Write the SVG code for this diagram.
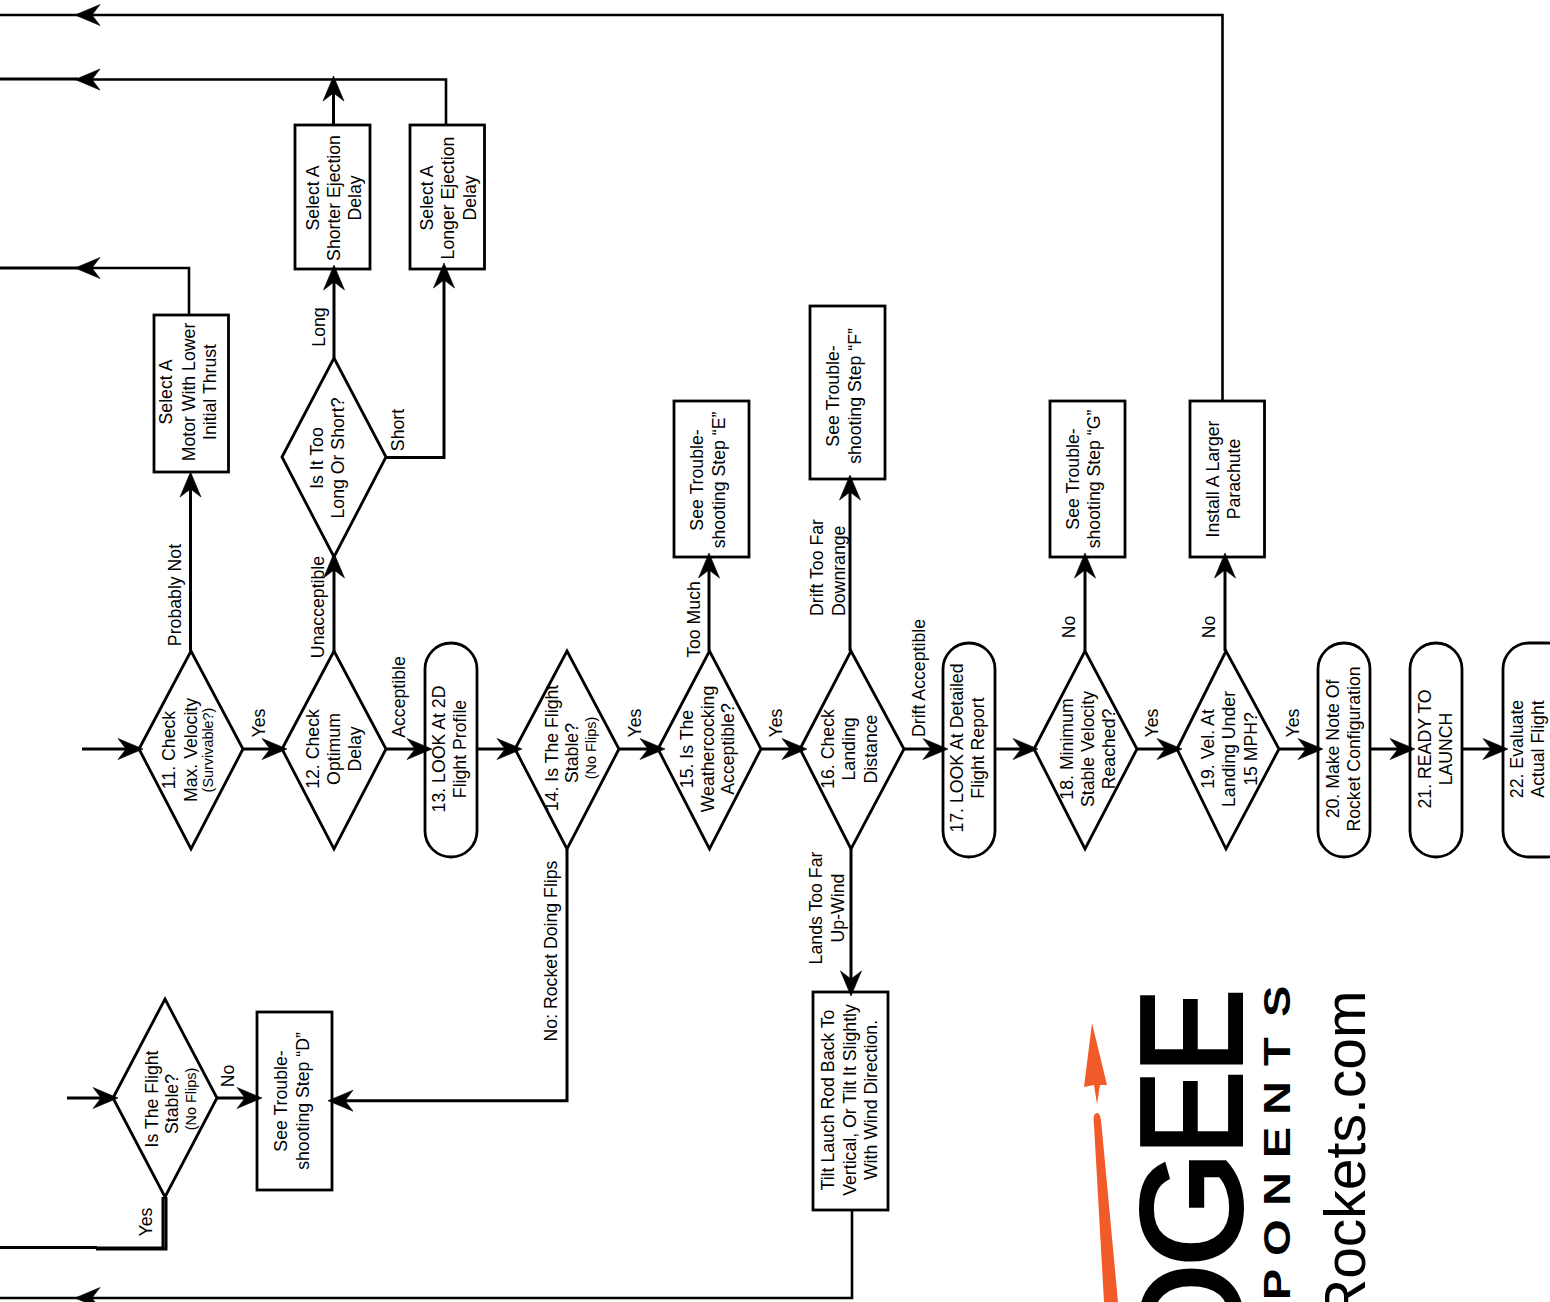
<svg xmlns="http://www.w3.org/2000/svg" width="1550" height="1302" viewBox="0 0 1550 1302">
<style>
text{font-family:"Liberation Sans",Arial,sans-serif;font-size:17.7px;fill:#000;text-anchor:middle}
.s{font-size:14.4px}
.st{text-anchor:start}
.n{fill:#fff;stroke:#000;stroke-width:2.8}
.c{fill:none;stroke:#000;stroke-width:3}
.l{fill:none;stroke:#000;stroke-width:2.6}
.a{marker-end:url(#ah)}
.big{font-size:143px;stroke:#000;stroke-width:4;text-anchor:start}
</style>
<defs>
<marker id="ah" markerUnits="userSpaceOnUse" markerWidth="30" markerHeight="24" refX="21" refY="12" orient="auto" overflow="visible"><path d="M25,12 L0,1.5 L8,12 L0,22.5 Z" fill="#000" stroke="#000" stroke-width=".6"/></marker>
</defs>
<rect width="1550" height="1302" fill="#fff"/>
<g id="nodes">
<g id="n11"><polygon class="n" points="139,749 191,651 243,749 191,849"/><text transform="translate(0,750) rotate(-90)"><tspan x="0" y="175">11. Check</tspan><tspan x="0" y="197">Max. Velocity</tspan><tspan x="0" y="213" class="s">(Survivable?)</tspan></text></g>
<g id="n12"><polygon class="n" points="282,749 334,651 386,749 334,849"/><text transform="translate(0,749) rotate(-90)"><tspan x="0" y="319">12. Check</tspan><tspan x="0" y="340">Optimum</tspan><tspan x="0" y="361">Delay</tspan></text></g>
<g id="n13"><rect class="n" x="425" y="643" width="52" height="214" rx="26"/><text transform="translate(0,749) rotate(-90)"><tspan x="0" y="445">13. LOOK At 2D</tspan><tspan x="0" y="466">Flight Profile</tspan></text></g>
<g id="n14"><polygon class="n" points="515,749 567,651 619,749 567,849"/><text transform="translate(0,748) rotate(-90)"><tspan x="0" y="558">14. Is The Flight</tspan><tspan x="-5" y="578">Stable?</tspan><tspan x="0" y="596" class="s">(No Flips)</tspan></text></g>
<g id="n15"><polygon class="n" points="658,749 709.5,651 761,749 709.5,849"/><text transform="translate(0,749) rotate(-90)"><tspan x="0" y="693">15. Is The</tspan><tspan x="0" y="714">Weathercocking</tspan><tspan x="0" y="734">Acceptible?</tspan></text></g>
<g id="n16"><polygon class="n" points="800,749 851,651 904,749 851,849"/><text transform="translate(0,749) rotate(-90)"><tspan x="0" y="834">16. Check</tspan><tspan x="0" y="855">Landing</tspan><tspan x="0" y="877">Distance</tspan></text></g>
<g id="n17"><rect class="n" x="943" y="643" width="52" height="214" rx="26"/><text transform="translate(0,748) rotate(-90)"><tspan x="0" y="963">17. LOOK At Detailed</tspan><tspan x="0" y="984">Flight Report</tspan></text></g>
<g id="n18"><polygon class="n" points="1034,749 1085,651 1137,749 1085,849"/><text transform="translate(0,749) rotate(-90)"><tspan x="0" y="1073">18. Minimum</tspan><tspan x="0" y="1094">Stable Velocity</tspan><tspan x="0" y="1115">Reached?</tspan></text></g>
<g id="n19"><polygon class="n" points="1177,749 1226,651 1279,749 1226,849"/><text transform="translate(0,749) rotate(-90)"><tspan x="0" y="1214">19. Vel. At</tspan><tspan x="0" y="1235">Landing Under</tspan><tspan x="0" y="1257">15 MPH?</tspan></text></g>
<g id="n20"><rect class="n" x="1318" y="643" width="52" height="214" rx="26"/><text transform="translate(0,749) rotate(-90)"><tspan x="0" y="1339">20. Make Note Of</tspan><tspan x="0" y="1360">Rocket Configuration</tspan></text></g>
<g id="n21"><rect class="n" x="1410" y="643" width="52" height="214" rx="26"/><text transform="translate(0,749) rotate(-90)"><tspan x="0" y="1431">21. READY TO</tspan><tspan x="0" y="1452">LAUNCH</tspan></text></g>
<g id="n22"><rect class="n" x="1503" y="643" width="70" height="214" rx="26"/><text transform="translate(0,749) rotate(-90)"><tspan x="0" y="1523">22. Evaluate</tspan><tspan x="0" y="1544">Actual Flight</tspan></text></g>
<g id="motor"><rect class="n" x="154" y="315" width="74.500" height="157"/><text transform="translate(0,392) rotate(-90)"><tspan x="0" y="172">Select A</tspan><tspan x="0" y="195">Motor With Lower</tspan><tspan x="0" y="216">Initial Thrust</tspan></text></g>
<g id="too-long"><polygon class="n" points="282,457 334,358 386,457 334,557"/><text transform="translate(0,458) rotate(-90)"><tspan x="0" y="323">Is It Too</tspan><tspan x="0" y="344">Long Or Short?</tspan></text></g>
<g id="shorter"><rect class="n" x="295" y="125" width="75" height="144"/><text transform="translate(0,198) rotate(-90)"><tspan x="0" y="319">Select A</tspan><tspan x="0" y="340">Shorter Ejection</tspan><tspan x="0" y="361">Delay</tspan></text></g>
<g id="longer"><rect class="n" x="410" y="125" width="74.500" height="144"/><text transform="translate(0,198) rotate(-90)"><tspan x="0" y="433">Select A</tspan><tspan x="0" y="454">Longer Ejection</tspan><tspan x="0" y="476">Delay</tspan></text></g>
<g id="step-e"><rect class="n" x="674" y="401" width="75" height="156"/><text transform="translate(0,480) rotate(-90)"><tspan x="0" y="703">See Trouble-</tspan><tspan x="0" y="725">shooting Step “E”</tspan></text></g>
<g id="step-f"><rect class="n" x="810" y="306" width="75" height="173"/><text transform="translate(0,396) rotate(-90)"><tspan x="0" y="839">See Trouble-</tspan><tspan x="0" y="861">shooting Step “F”</tspan></text></g>
<g id="step-g"><rect class="n" x="1050" y="401" width="75" height="156"/><text transform="translate(0,479) rotate(-90)"><tspan x="0" y="1079">See Trouble-</tspan><tspan x="0" y="1100">shooting Step “G”</tspan></text></g>
<g id="parachute"><rect class="n" x="1190" y="401" width="74.500" height="156"/><text transform="translate(0,479) rotate(-90)"><tspan x="0" y="1219">Install A Larger</tspan><tspan x="0" y="1240">Parachute</tspan></text></g>
<g id="tilt"><rect class="n" x="813" y="992" width="75" height="218"/><text transform="translate(0,1100) rotate(-90)"><tspan x="0" y="834">Tilt Lauch Rod Back To</tspan><tspan x="0" y="856">Vertical, Or Tilt It Slightly</tspan><tspan x="0" y="877">With Wind Direction.</tspan></text></g>
<g id="flight-stable"><polygon class="n" points="113,1098 165,999 217,1098 165,1197"/><text transform="translate(0,1099) rotate(-90)"><tspan x="0" y="158">Is The Flight</tspan><tspan x="-5" y="178">Stable?</tspan><tspan x="0" y="196" class="s">(No Flips)</tspan></text></g>
<g id="step-d"><rect class="n" x="257" y="1012" width="75" height="178"/><text transform="translate(0,1101) rotate(-90)"><tspan x="0" y="287">See Trouble-</tspan><tspan x="0" y="309">shooting Step “D”</tspan></text></g>
</g>
<g id="connectors">
<path class="c a" d="M82,749H139"/>
<path class="c a" d="M243,749H283"/>
<path class="c a" d="M386,749H428"/>
<path class="c a" d="M477,749H518"/>
<path class="c a" d="M619,749H661"/>
<path class="c a" d="M761,749H803"/>
<path class="c a" d="M904,749H944"/>
<path class="c a" d="M995,749H1034"/>
<path class="c a" d="M1137,749H1178"/>
<path class="c a" d="M1279,749H1319"/>
<path class="c a" d="M1370,749H1411"/>
<path class="c a" d="M1462,749H1504"/>
<path class="c a" d="M190.500,651V476"/>
<path class="c a" d="M334,651V557"/>
<path class="c a" d="M334,358V269"/>
<path class="c a" d="M386,457.500H444V267"/>
<path class="c a" d="M333.500,125V80"/>
<path class="l a" d="M446,125V79.500H79"/>
<path class="c" d="M0,79H78"/>
<path class="l a" d="M1222.500,401V15H79"/>
<path class="l" d="M0,15H78"/>
<path class="l a" d="M189,315V268H79"/>
<path class="c" d="M0,268H78"/>
<path class="c a" d="M709,651V557"/>
<path class="c a" d="M850,651V479"/>
<path class="c a" d="M851,849V992"/>
<path class="c a" d="M1085,651V557"/>
<path class="c a" d="M1225,651V557"/>
<path class="c a" d="M567,849V1100.700H332"/>
<path class="c a" d="M67,1098H114"/>
<path class="c a" d="M217,1098H258"/>
<path class="c" d="M163,1197V1248H96"/>
<path class="c" d="M166,1197V1249H96"/>
<path class="c" d="M0,1247.500H97"/>
<path class="l a" d="M852,1210V1298H79"/>
<path class="l" d="M0,1298H78"/>
</g>
<g id="labels">
<text transform="translate(181,595) rotate(-90)">Probably Not</text>
<text transform="translate(265,723) rotate(-90)">Yes</text>
<text transform="translate(324,607) rotate(-90)">Unacceptible</text>
<text transform="translate(325,327) rotate(-90)">Long</text>
<text transform="translate(404,430) rotate(-90)">Short</text>
<text transform="translate(405,697) rotate(-90)">Acceptible</text>
<text transform="translate(640.500,723) rotate(-90)">Yes</text>
<text transform="translate(782,723) rotate(-90)">Yes</text>
<text transform="translate(700,619.500) rotate(-90)">Too Much</text>
<text class="st" transform="translate(823,616) rotate(-90)">Drift Too Far</text>
<text class="st" transform="translate(845,616) rotate(-90)">Downrange</text>
<text transform="translate(925,678) rotate(-90)">Drift Acceptible</text>
<text transform="translate(822,908) rotate(-90)">Lands Too Far</text>
<text transform="translate(844,908) rotate(-90)">Up-Wind</text>
<text transform="translate(557,951) rotate(-90)">No: Rocket Doing Flips</text>
<text transform="translate(152,1222) rotate(-90)">Yes</text>
<text transform="translate(234,1076) rotate(-90)">No</text>
<text transform="translate(1075,627) rotate(-90)">No</text>
<text transform="translate(1215,627) rotate(-90)">No</text>
<text transform="translate(1158,723) rotate(-90)">Yes</text>
<text transform="translate(1299,723) rotate(-90)">Yes</text>
</g>
<g id="logo">
<polygon fill="#F15A29" points="1092,1023 1107,1085 1100,1085 1097,1104 1094,1085 1084,1087"/>
<path fill="#F15A29" d="M1097,1113 C1100,1113 1101,1118 1101.500,1125 L1118,1302 L1104,1302 L1094,1125 C1093,1118 1094,1113 1097,1113 Z"/>
<text class="big" transform="translate(1241,1375) rotate(-90)">O</text>
<text class="big" transform="translate(1241,1267) rotate(-90) scale(1.04,1)">G</text>
<text class="big" transform="translate(1241,1155) rotate(-90) scale(.88,1)">E</text>
<text class="big" transform="translate(1241,1073) rotate(-90) scale(.88,1)">E</text>
<text transform="translate(1290,1297) rotate(-90) scale(1.25,1)" x="-2.6 32.8 72.8 111 145.6 184.8 224" y="0" style="text-anchor:start;font-size:37.7px;font-weight:bold">PONENTS</text>
<text transform="translate(1365,991) rotate(-90)" style="text-anchor:start;font-size:57px" x="-329">Rockets.com</text>
</g>
</svg>
